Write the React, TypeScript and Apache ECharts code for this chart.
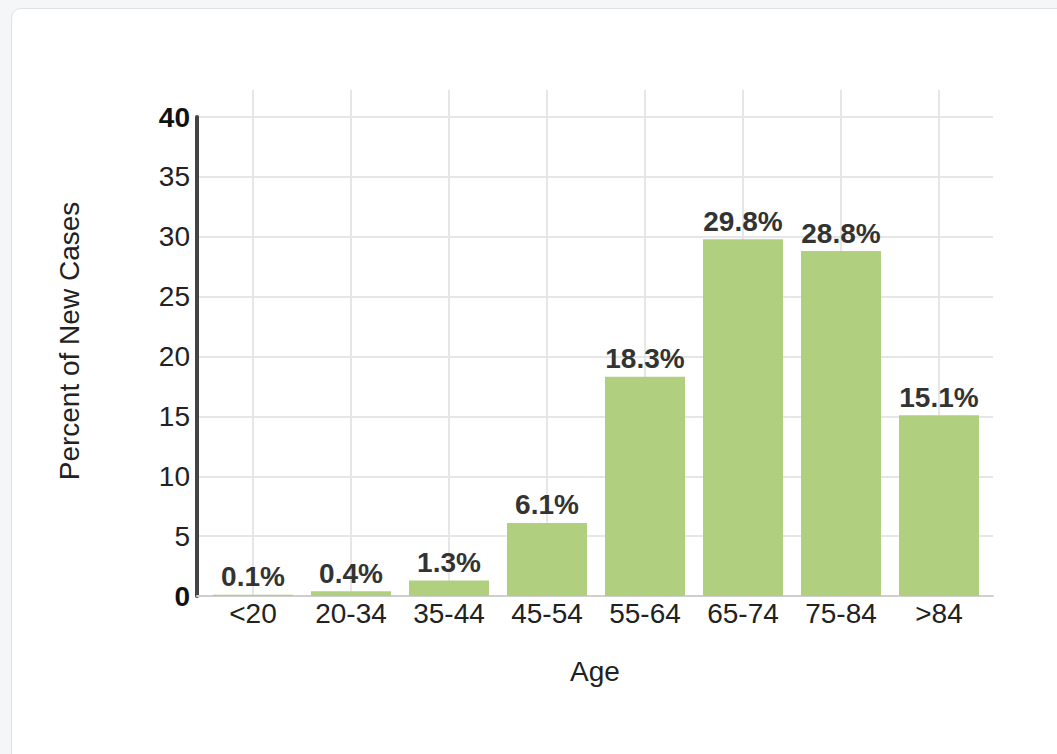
import React, { useEffect, useRef } from "react";
import * as echarts from "echarts";

const categories = ["<20", "20-34", "35-44", "45-54", "55-64", "65-74", "75-84", ">84"];
const percentNewCases = [0.1, 0.4, 1.3, 6.1, 18.3, 29.8, 28.8, 15.1];
const yTicks = { min: 0, max: 40, interval: 5 };
const yTitle = "Percent of New Cases";
const xTitle = "Age";

const FONT = "'Liberation Sans', Arial, Helvetica, sans-serif";

export default function App() {
  const ref = useRef<HTMLDivElement>(null);
  useEffect(() => {
    if (!ref.current) return;
    const chart = echarts.init(ref.current, undefined, { renderer: "svg" });
    const hiddenAxis = {
      axisLine: { show: false },
      axisTick: { show: false },
      axisLabel: { show: false },
      splitLine: { show: false },
    };
    chart.setOption({
      animation: false,
      backgroundColor: "transparent",
      textStyle: { fontFamily: FONT },
      grid: [
        { left: 197, right: 64, top: 117, bottom: 158 },
        { left: 253, right: 118, top: 90, bottom: 158 },
        { left: 204, right: 69, top: 117, bottom: 158 },
      ],
      xAxis: [
        {
          gridIndex: 0,
          type: "category",
          data: categories,
          axisLine: { show: true, lineStyle: { color: "#cfcfcf", width: 2 } },
          axisTick: { show: false },
          axisLabel: { show: false },
          splitLine: { show: false },
          name: xTitle,
          nameLocation: "middle",
          nameGap: 61,
          nameTextStyle: { fontSize: 28, color: "#222", fontFamily: FONT },
        },
        {
          gridIndex: 1,
          type: "category",
          data: categories,
          boundaryGap: false,
          axisLine: { show: false },
          axisTick: { show: false },
          axisLabel: { show: false },
          splitLine: { show: true, lineStyle: { color: "#e6e6e6", width: 2 } },
        },
        {
          gridIndex: 2,
          type: "category",
          data: categories,
          axisLine: { show: false },
          axisTick: { show: false },
          splitLine: { show: false },
          axisLabel: { show: true, margin: 3, fontSize: 28, color: "#222", fontFamily: FONT },
        },
      ],
      yAxis: [
        {
          gridIndex: 0,
          type: "value",
          min: yTicks.min,
          max: yTicks.max,
          interval: yTicks.interval,
          axisLine: { show: true, lineStyle: { color: "#444", width: 4 } },
          axisTick: { show: false },
          splitLine: { show: true, lineStyle: { color: "#e6e6e6", width: 2 } },
          axisLabel: {
            margin: 7,
            fontSize: 28,
            color: "#222",
            fontFamily: FONT,
            formatter: (v: number) =>
              v === yTicks.min || v === yTicks.max ? `{b|${v}}` : `${v}`,
            rich: {
              b: { fontWeight: "bold", fontSize: 28, color: "#111", fontFamily: FONT },
            },
          },
        },
        { gridIndex: 1, type: "value", min: yTicks.min, max: yTicks.max, ...hiddenAxis },
        { gridIndex: 2, type: "value", min: yTicks.min, max: yTicks.max, ...hiddenAxis },
      ],
      graphic: [
        {
          type: "text",
          x: 69,
          y: 341,
          rotation: Math.PI / 2,
          style: {
            text: yTitle,
            fontSize: 28,
            fill: "#222",
            align: "center",
            verticalAlign: "middle",
            fontFamily: FONT,
          },
        },
      ],
      series: [
        {
          type: "bar",
          xAxisIndex: 2,
          yAxisIndex: 2,
          data: percentNewCases,
          barWidth: 80,
          itemStyle: { color: "#b0d07f" },
          label: {
            show: true,
            position: "top",
            distance: 4,
            formatter: "{c}%",
            fontSize: 28,
            fontWeight: "bold",
            color: "#333",
            fontFamily: FONT,
          },
        },
      ],
    });
    return () => chart.dispose();
  }, []);

  return (
    <div
      style={{
        position: "fixed",
        left: 0,
        top: 0,
        width: 1057,
        height: 754,
        background: "#f4f6f8",
        overflow: "hidden",
      }}
    >
      <div
        style={{
          position: "absolute",
          left: 11,
          top: 8,
          width: 1100,
          height: 800,
          background: "#fff",
          border: "1px solid #dde1e4",
          borderRadius: 10,
        }}
      />
      <div
        ref={ref}
        style={{ position: "absolute", left: 0, top: 0, width: 1057, height: 754 }}
      />
    </div>
  );
}
